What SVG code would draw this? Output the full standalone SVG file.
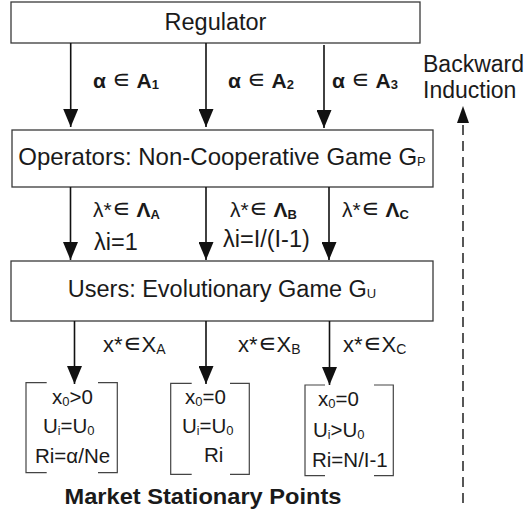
<svg xmlns="http://www.w3.org/2000/svg" width="528" height="515" viewBox="0 0 528 515">
<defs>
<style>
.box{fill:#fff;stroke:#3a3a3a;stroke-width:1.3}
.t{font-family:"Liberation Sans",Arial,sans-serif;fill:#1a1a1a}
.main{font-size:23.5px;text-anchor:middle}
.alab{font-size:21px;font-weight:bold}
.lab{font-size:21px}
.lab2{font-size:23.5px}
.xl{font-size:22px}
.bt{font-size:20.5px}
.el{font-weight:normal;font-size:26px}
.conn{stroke:#111;stroke-width:1.6;fill:none}
.dash{stroke:#111;stroke-width:1.4;fill:none;stroke-dasharray:10 6}
.br{stroke:#444;stroke-width:1.2;fill:none}
</style>
<marker id="ah" viewBox="0 0 18 15" refX="18" refY="7.5" markerWidth="18" markerHeight="15" markerUnits="userSpaceOnUse" orient="auto">
<path d="M0,0 L18,7.5 L0,15 z" fill="#111"/>
</marker>
<marker id="ahs" viewBox="0 0 17 12" refX="17" refY="6" markerWidth="17" markerHeight="12" markerUnits="userSpaceOnUse" orient="auto">
<path d="M0,0 L17,6 L0,12 z" fill="#111"/>
</marker>
</defs>
<rect width="528" height="515" fill="#fff"/>

<g id="regulator">
<rect class="box" x="11" y="2" width="409" height="41"/>
<text class="t main" x="215.5" y="30">Regulator</text>
</g>

<g id="operators">
<rect class="box" x="12" y="130" width="421" height="57"/>
<text class="t main" x="222" y="165" style="font-size:24px">Operators: Non-Cooperative Game G<tspan font-size="13" dy="1">P</tspan></text>
</g>

<g id="users">
<rect class="box" x="11" y="261" width="422" height="60"/>
<text class="t main" x="222" y="297">Users: Evolutionary Game G<tspan font-size="13" dy="1">U</tspan></text>
</g>

<g id="connectors">
<line class="conn" x1="70.7" y1="43" x2="70.7" y2="127" marker-end="url(#ah)"/>
<line class="conn" x1="206" y1="43" x2="206" y2="127" marker-end="url(#ah)"/>
<line class="conn" x1="324" y1="45" x2="324" y2="128" marker-end="url(#ah)"/>
<line class="conn" x1="70.5" y1="187" x2="70.5" y2="260" marker-end="url(#ah)"/>
<line class="conn" x1="206" y1="187" x2="206" y2="260" marker-end="url(#ah)"/>
<line class="conn" x1="329" y1="187" x2="329" y2="260" marker-end="url(#ah)"/>
<line class="conn" x1="74.5" y1="321" x2="74.5" y2="384" marker-end="url(#ah)"/>
<line class="conn" x1="206" y1="321" x2="206" y2="384" marker-end="url(#ah)"/>
<line class="conn" x1="329.5" y1="321" x2="329.5" y2="385" marker-end="url(#ah)"/>
<line class="dash" x1="463" y1="503" x2="463" y2="106" marker-end="url(#ahs)"/>
</g>

<g id="edge-labels">
<text class="t alab" x="93" y="88">α <tspan class="el">∊</tspan> A<tspan font-size="13" dy="1">1</tspan></text>
<text class="t alab" x="228" y="88">α <tspan class="el">∊</tspan> A<tspan font-size="13" dy="1">2</tspan></text>
<text class="t alab" x="332" y="88">α <tspan class="el">∊</tspan> A<tspan font-size="13" dy="1">3</tspan></text>

<text class="t lab" x="93" y="217">λ*<tspan class="el">∊</tspan> <tspan font-weight="bold">Λ</tspan><tspan font-weight="bold" font-size="13" dy="2">A</tspan></text>
<text class="t lab" x="230" y="217">λ*<tspan class="el">∊</tspan> <tspan font-weight="bold">Λ</tspan><tspan font-weight="bold" font-size="13" dy="2">B</tspan></text>
<text class="t lab" x="342" y="217">λ*<tspan class="el">∊</tspan> <tspan font-weight="bold">Λ</tspan><tspan font-weight="bold" font-size="13" dy="2">C</tspan></text>
<text class="t lab2" x="94" y="250">λi=1</text>
<text class="t lab2" x="223" y="247">λi=I/(I-1)</text>

<text class="t xl" x="103" y="352">x*<tspan class="el">∊</tspan>X<tspan font-size="14" dy="2">A</tspan></text>
<text class="t xl" x="238" y="352">x*<tspan class="el">∊</tspan>X<tspan font-size="14" dy="2">B</tspan></text>
<text class="t xl" x="343" y="352">x*<tspan class="el">∊</tspan>X<tspan font-size="14" dy="2">C</tspan></text>
</g>

<g id="point-A">
<path class="br" d="M46.7,382.7 H26 V472.7 H46.7 M98,382.7 H117.3 V472.7 H98"/>
<text class="t bt" x="52" y="404">x<tspan font-size="13" dy="1.5">0</tspan><tspan dy="-1.5">&gt;0</tspan></text>
<text class="t bt" x="43" y="433">U<tspan font-size="12" dy="2">i</tspan><tspan dy="-2">=U</tspan><tspan font-size="13" dy="1.5">0</tspan></text>
<text class="t bt" x="35" y="463">Ri=α/Ne</text>
</g>

<g id="point-B">
<path class="br" d="M191.7,383.3 H170.7 V474.3 H191.7 M230,383.3 H249.3 V474.3 H230"/>
<text class="t bt" x="185" y="404">x<tspan font-size="13" dy="1.5">0</tspan><tspan dy="-1.5">=0</tspan></text>
<text class="t bt" x="182" y="433">U<tspan font-size="12" dy="2">i</tspan><tspan dy="-2">=U</tspan><tspan font-size="13" dy="1.5">0</tspan></text>
<text class="t bt" x="204" y="462">Ri</text>
</g>

<g id="point-C">
<path class="br" d="M325,385 H305 V475.7 H325 M374,385 H393.3 V475.7 H374"/>
<text class="t bt" x="318" y="406">x<tspan font-size="13" dy="1.5">0</tspan><tspan dy="-1.5">=0</tspan></text>
<text class="t bt" x="313" y="437">U<tspan font-size="12" dy="2">i</tspan><tspan dy="-2">&gt;U</tspan><tspan font-size="13" dy="1.5">0</tspan></text>
<text class="t bt" x="312" y="467">Ri=N/I-1</text>
</g>

<g id="market-label">
<text class="t" x="203" y="504" font-size="22" font-weight="bold" text-anchor="middle" textLength="277" lengthAdjust="spacingAndGlyphs">Market Stationary Points</text>
</g>

<g id="backward-induction">
<text class="t" x="423" y="72" font-size="23">Backward</text>
<text class="t" x="423" y="98" font-size="23">Induction</text>
</g>
</svg>
